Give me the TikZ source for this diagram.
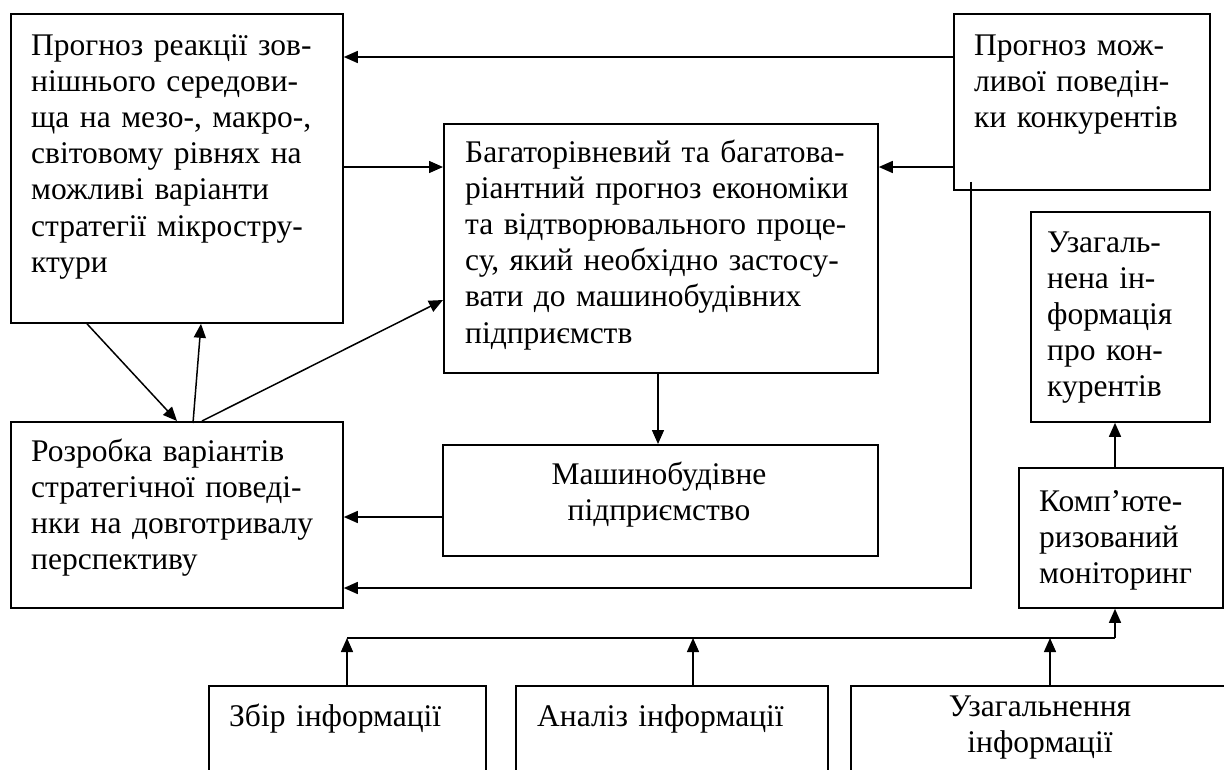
\documentclass[tikz,border=0pt]{standalone}
\usepackage{fontspec}
\setmainfont{Liberation Serif}
\usetikzlibrary{arrows.meta,calc}
\begin{document}
\begin{tikzpicture}[x=1pt,y=-1pt,
  box/.style={draw, line width=1.8pt, rectangle, inner sep=0pt, anchor=north west},
  txt/.style={anchor=base west, inner sep=0pt, text width=420pt, align=left, font=\fontsize{31.5}{36.2}\selectfont},
  ctxt/.style={anchor=base, inner sep=0pt, text width=420pt, align=center, font=\fontsize{31.5}{36.2}\selectfont},
  arr/.style={line width=1.5pt, -{Triangle[length=14pt,width=12pt]}},
  ln/.style={line width=1.5pt}]
\useasboundingbox (0,0) rectangle (1224,769);
% boxes
\node[box, minimum width=332pt, minimum height=309pt] (A) at (10,13) {};
\node[box, minimum width=256pt, minimum height=176pt] (C) at (953,13) {};
\node[box, minimum width=434pt, minimum height=249pt] (B) at (443,123) {};
\node[box, minimum width=332pt, minimum height=186pt] (D) at (10,421) {};
\node[box, minimum width=435pt, minimum height=111pt] (E) at (442,444) {};
\node[box, minimum width=179pt, minimum height=210pt] (F) at (1030,211) {};
\node[box, minimum width=204pt, minimum height=140pt] (G) at (1018,467) {};
\node[box, minimum width=277pt, minimum height=140pt] (zb) at (208,685) {};
\node[box, minimum width=312pt, minimum height=140pt] (an) at (515,685) {};
\node[box, minimum width=380pt, minimum height=140pt] (uz) at (850,685) {};
% texts
\node[txt] (tA) at (31,55) {Прогноз реакції зов-\\нішнього середови-\\ща на мезо-, макро-,\\світовому рівнях на\\можливі варіанти\\стратегії мікростру-\\ктури};
\node[txt] (tC) at (974,55) {Прогноз мож-\\ливої поведін-\\ки конкурентів};
\node[txt] (tB) at (465,162) {Багаторівневий та багатова-\\ріантний прогноз економіки\\та відтворювального проце-\\су, який необхідно застосу-\\вати до машинобудівних\\підприємств};
\node[txt] (tD) at (31,461) {Розробка варіантів\\стратегічної поведі-\\нки на довготривалу\\перспективу};
\node[ctxt] (tE) at (659,484) {Машинобудівне\\підприємство};
\node[txt] (tF) at (1047,252) {Узагаль-\\нена ін-\\формація\\про кон-\\курентів};
\node[txt] (tG) at (1039,511) {Комп’юте-\\ризований\\моніторинг};
\node[txt] (tzb) at (229,726) {Збір інформації};
\node[txt] (tan) at (537,726) {Аналіз інформації};
\node[ctxt] (tuz) at (1040,716) {Узагальнення\\інформації};
% connectors
\draw[arr] ($(C.north west)+(0,44)$) -- ($(A.north east)+(0,44)$);
\draw[arr] ($(C.north west)+(0,154)$) -- ($(B.north east)+(0,44)$);
\draw[arr] ($(A.north east)+(0,154)$) -- ($(B.north west)+(0,44)$);
\coordinate (cdrop) at ($(C.south west)+(18,-9)$);
\draw[arr] (cdrop) |- ($(D.north east)+(0,167)$);
\draw[arr] ($(B.south west)+(215,0)$) -- ($(E.north west)+(216,0)$);
\draw[arr] ($(E.north west)+(0,73)$) -- ($(D.north east)+(0,96)$);
\draw[arr] ($(A.south west)+(77,0)$) -- ($(D.north west)+(167,0)$);
\draw[arr] ($(D.north west)+(183,2)$) -- ($(A.south west)+(191,0)$);
\draw[arr] ($(D.north west)+(192,0)$) -- ($(B.north west)+(0,177)$);
\draw[arr] ($(G.north west)+(97,0)$) -- ($(F.south west)+(85,0)$);
% bus
\coordinate (busL) at (347,638);
\coordinate (busR) at (1115,638);
\draw[ln] (busL) -- (busR);
\draw[arr] (busR) -- (busR |- G.south);
\coordinate (zbup) at ($(zb.north west)+(139,0)$);
\coordinate (anup) at ($(an.north west)+(178,0)$);
\coordinate (uzup) at ($(uz.north west)+(200,0)$);
\draw[arr] (zbup) -- (zbup |- busL);
\draw[arr] (anup) -- (anup |- busL);
\draw[arr] (uzup) -- (uzup |- busL);
\end{tikzpicture}
\end{document}
